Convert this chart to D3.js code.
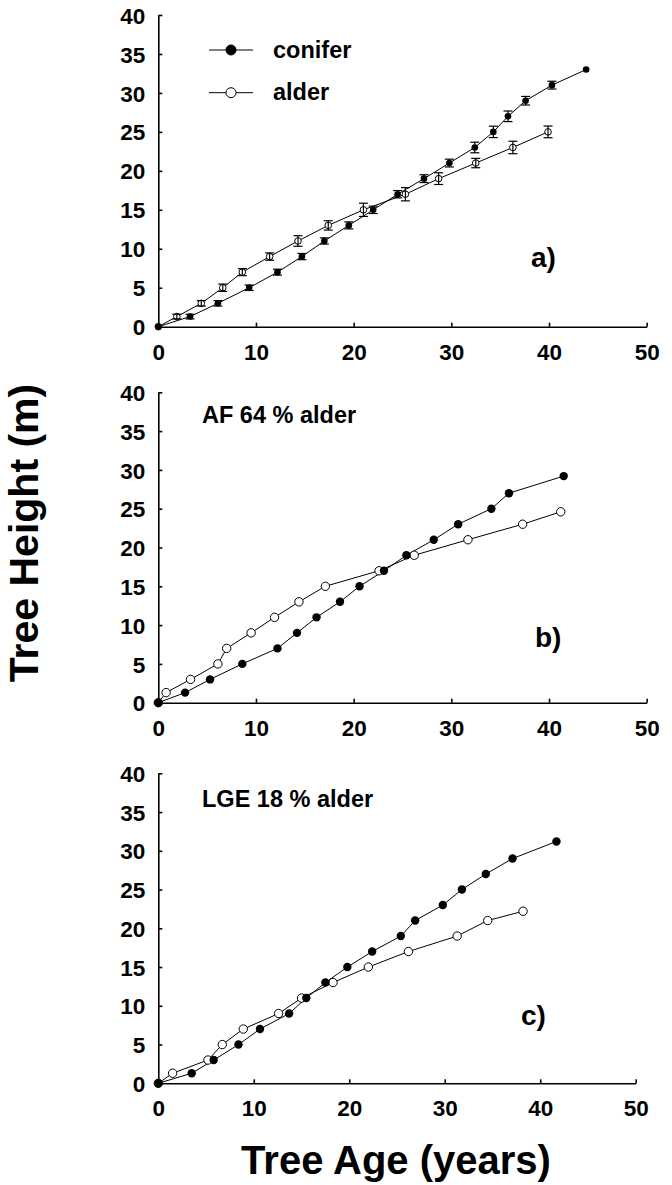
<!DOCTYPE html>
<html lang="en">
<head>
    <meta charset="UTF-8">
    <title>Tree Height vs Tree Age</title>
    <script src="https://d3js.org/d3.v7.min.js"></script>
    <style>
        body { margin: 0; background: #fff; }
        text { font-family: "Liberation Sans", Arial, sans-serif; font-weight: bold; }
    </style>
</head>
<body>
    <svg id="chart" width="672" height="1185"></svg>

    <script>
        // panel a) mean heights with error bars
        const aConiferAge    = [0, 3.25, 6.1, 9.3, 12.2, 14.7, 17.0, 19.5, 22.0, 24.5, 27.2, 29.8, 32.4, 34.3, 35.8, 37.6, 40.3, 43.8];
        const aConiferHeight = [0, 1.3, 3, 5, 7, 9, 11, 13, 15, 17, 19, 21, 23, 25, 27, 29, 31, 33];
        const aConiferErr    = [0, 0.3, 0.35, 0.35, 0.38, 0.4, 0.4, 0.45, 0.47, 0.47, 0.5, 0.5, 0.68, 0.73, 0.68, 0.55, 0.5, 0];
        const aAlderAge      = [0, 1.9, 4.4, 6.6, 8.6, 11.4, 14.3, 17.4, 21.0, 25.3, 28.7, 32.5, 36.3, 39.9];
        const aAlderHeight   = [0, 1.3, 3, 5, 7, 9, 11, 13, 15, 17, 19, 21, 23, 25];
        const aAlderErr      = [0, 0.3, 0.35, 0.47, 0.45, 0.47, 0.68, 0.6, 0.85, 0.85, 0.75, 0.6, 0.8, 0.75];

        // panel b) AF 64 % alder
        const bConiferAge    = [0, 2.74, 5.3, 8.6, 12.2, 14.2, 16.2, 18.6, 20.6, 23.1, 25.4, 28.2, 30.7, 34.1, 35.9, 41.5];
        const bConiferHeight = [0, 1.3, 3, 5, 7, 9, 11, 13, 15, 17, 19, 21, 23, 25, 27, 29.2];
        const bAlderAge      = [0, 0.8, 3.3, 6.1, 7.0, 9.5, 11.9, 14.4, 17.1, 22.6, 26.2, 31.7, 37.3, 41.2];
        const bAlderHeight   = [0, 1.3, 3, 5, 7, 9, 11, 13, 15, 17, 19, 21, 23, 24.6];

        // panel c) LGE 18 % alder
        const cConiferAge    = [0, 3.5, 5.8, 8.4, 10.65, 13.7, 15.5, 17.5, 19.8, 22.4, 25.4, 26.9, 29.8, 31.8, 34.3, 37.1, 41.7];
        const cConiferHeight = [0, 1.3, 3, 5, 7, 9, 11, 13, 15, 17, 19, 21, 23, 25, 27, 29, 31.2];
        const cAlderAge      = [0, 1.5, 5.2, 6.7, 8.9, 12.6, 15.0, 18.3, 22.0, 26.2, 31.3, 34.5, 38.2];
        const cAlderHeight   = [0, 1.3, 3, 5, 7, 9, 11, 13, 15, 17, 19, 21, 22.2];

        const xTicks = [0, 10, 20, 30, 40, 50];
        const yTicks = [0, 5, 10, 15, 20, 25, 30, 35, 40];

        const svg = d3.select("#chart");

        const panels = [
            {x0: 158.3, x1: 646.7, y0: 326.7, y1: 15,    r: 3.3, letter: "a)", lx: 531, ly: 267,
             conifer: d3.zip(aConiferAge, aConiferHeight, aConiferErr),
             alder: d3.zip(aAlderAge, aAlderHeight, aAlderErr), errors: true},
            {x0: 158.3, x1: 646.7, y0: 702.7, y1: 392.3, r: 4.2, letter: "b)", lx: 535, ly: 647,
             title: "AF 64 % alder", tx: 202, ty: 423,
             conifer: d3.zip(bConiferAge, bConiferHeight),
             alder: d3.zip(bAlderAge, bAlderHeight)},
            {x0: 158.3, x1: 635.7, y0: 1083.3, y1: 773.3, r: 4.2, letter: "c)", lx: 521, ly: 1025,
             title: "LGE 18 % alder", tx: 202, ty: 807,
             conifer: d3.zip(cConiferAge, cConiferHeight),
             alder: d3.zip(cAlderAge, cAlderHeight)}
        ];

        panels.forEach(p => {
            const x = d3.scaleLinear().domain([0, 50]).range([p.x0, p.x1]);
            const y = d3.scaleLinear().domain([0, 40]).range([p.y0, p.y1]);
            const g = svg.append("g");

            g.append("g")
                .attr("transform", `translate(0,${p.y0})`)
                .call(d3.axisBottom(x).tickValues(xTicks).tickSizeInner(-4).tickSizeOuter(0).tickPadding(17))
                .call(a => a.selectAll("text").attr("font-size", 22.5).attr("font-family", null).attr("fill", "#000"));

            g.append("g")
                .attr("transform", `translate(${p.x0},0)`)
                .call(d3.axisLeft(y).tickValues(yTicks).tickSizeInner(-4).tickSizeOuter(0).tickPadding(13))
                .call(a => a.selectAll("text").attr("font-size", 22.5).attr("font-family", null).attr("fill", "#000").attr("dy", "0.36em"));

            g.selectAll(".domain, .tick line").attr("stroke", "#000").attr("stroke-width", 1.6);

            const line = d3.line().x(d => x(d[0])).y(d => y(d[1]));

            [p.alder, p.conifer].forEach(s => {
                g.append("path").datum(s)
                    .attr("d", line).attr("fill", "none")
                    .attr("stroke", "#000").attr("stroke-width", 1);
            });

            g.selectAll(".open").data(p.alder).enter().append("circle")
                .attr("cx", d => x(d[0])).attr("cy", d => y(d[1])).attr("r", p.r)
                .attr("fill", "#fff").attr("stroke", "#000").attr("stroke-width", 1);

            g.selectAll(".filled").data(p.conifer).enter().append("circle")
                .attr("cx", d => x(d[0])).attr("cy", d => y(d[1])).attr("r", p.r)
                .attr("fill", "#000");

            if (p.errors) {
                const bars = p.alder.concat(p.conifer).filter(d => d[2] > 0);
                const eb = g.append("g").attr("stroke", "#000").attr("stroke-width", 1.2);
                eb.selectAll(".v").data(bars).enter().append("line")
                    .attr("x1", d => x(d[0])).attr("x2", d => x(d[0]))
                    .attr("y1", d => y(d[1] - d[2])).attr("y2", d => y(d[1] + d[2]));
                eb.selectAll(".lo").data(bars).enter().append("line")
                    .attr("x1", d => x(d[0]) - 4.5).attr("x2", d => x(d[0]) + 4.5)
                    .attr("y1", d => y(d[1] - d[2])).attr("y2", d => y(d[1] - d[2]));
                eb.selectAll(".hi").data(bars).enter().append("line")
                    .attr("x1", d => x(d[0]) - 4.5).attr("x2", d => x(d[0]) + 4.5)
                    .attr("y1", d => y(d[1] + d[2])).attr("y2", d => y(d[1] + d[2]));
            }

            g.append("text").attr("x", p.lx).attr("y", p.ly)
                .attr("font-size", 28).text(p.letter);

            if (p.title) {
                g.append("text").attr("x", p.tx).attr("y", p.ty)
                    .attr("font-size", 23.5).text(p.title);
            }
        });

        // legend in panel a
        const legend = [
            {label: "conifer", fill: "#000", y: 50},
            {label: "alder", fill: "#fff", y: 92.7}
        ];
        const lg = svg.append("g");
        legend.forEach(l => {
            lg.append("line").attr("x1", 209).attr("x2", 253).attr("y1", l.y).attr("y2", l.y)
                .attr("stroke", "#000").attr("stroke-width", 1);
            lg.append("circle").attr("cx", 231).attr("cy", l.y).attr("r", 5)
                .attr("fill", l.fill).attr("stroke", "#000").attr("stroke-width", 1);
            lg.append("text").attr("x", 273).attr("y", l.y + 7.5)
                .attr("font-size", 23.5).text(l.label);
        });

        svg.append("text")
            .attr("transform", "translate(38,533) rotate(-90)")
            .attr("text-anchor", "middle").attr("font-size", 41)
            .text("Tree Height (m)");

        svg.append("text")
            .attr("x", 396).attr("y", 1174)
            .attr("text-anchor", "middle").attr("font-size", 40)
            .text("Tree Age (years)");
    </script>
</body>
</html>
